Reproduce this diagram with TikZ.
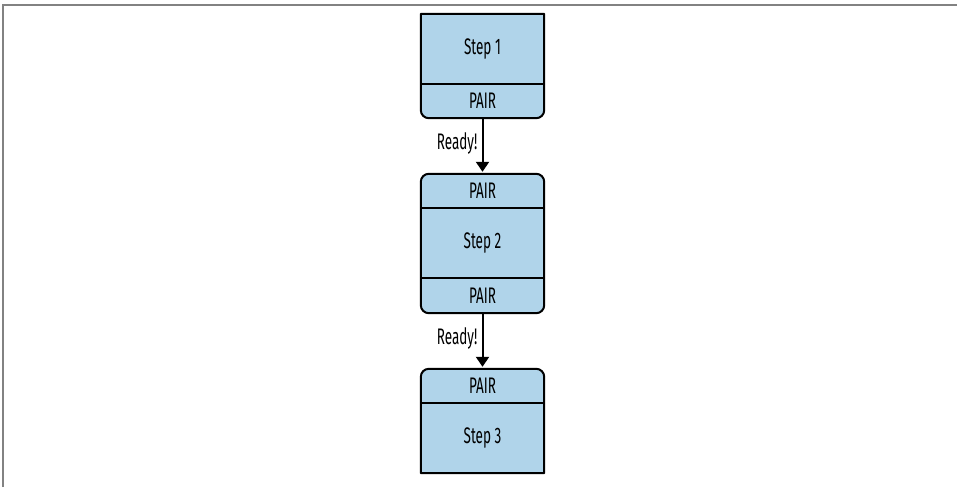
\documentclass[tikz,border=0pt]{standalone}
\usepackage{fontspec}
\setmainfont[FakeStretch=0.6]{Fira Sans}
\usetikzlibrary{arrows.meta,backgrounds}
\definecolor{boxblue}{RGB}{176,212,234}
\definecolor{framegray}{RGB}{130,130,130}
\begin{document}
\begin{tikzpicture}[x=1pt,y=1pt,
  sect/.style={rectangle, minimum width=123pt, inner sep=0pt, font=\fontsize{22.5}{24}\selectfont},
  outline/.style={draw=black, line width=2pt, fill=boxblue, line join=round},
  divider/.style={draw=black, line width=2pt},
  flow/.style={draw=black, line width=2pt, -{Triangle[length=10pt,width=13pt]}, shorten >=2pt},
  lbl/.style={font=\fontsize{22.5}{24}\selectfont, inner sep=4pt}]
\useasboundingbox (0,0) rectangle (957,-487);
\draw[framegray, line width=2.2pt] (3,-487) -- (3,-5) -- (957,-5);
% Box 1
\node[sect, minimum height=70pt] (s1) at (482.5,-49) {Step 1};
\node[sect, minimum height=34pt] (p1) at (482.5,-101) {PAIR};
% Box 2
\node[sect, minimum height=34pt] (q2) at (482.5,-191) {PAIR};
\node[sect, minimum height=70pt] (s2) at (482.5,-243) {Step 2};
\node[sect, minimum height=35pt] (p2) at (482.5,-295.5) {PAIR};
% Box 3
\node[sect, minimum height=34pt] (q3) at (482.5,-386) {PAIR};
\node[sect, minimum height=70pt] (s3) at (482.5,-438) {Step 3};
\begin{scope}[on background layer]
  \path[outline] (s1.north west) -- (s1.north east) -- ([yshift=8pt]p1.south east)
    arc[start angle=0, end angle=-90, radius=8pt] -- ([xshift=8pt]p1.south west)
    arc[start angle=270, end angle=180, radius=8pt] -- cycle;
  \path[outline] ([yshift=-8pt]q2.north west) arc[start angle=180, end angle=90, radius=8pt]
    -- ([xshift=-8pt]q2.north east) arc[start angle=90, end angle=0, radius=8pt]
    -- ([yshift=8pt]p2.south east) arc[start angle=0, end angle=-90, radius=8pt]
    -- ([xshift=8pt]p2.south west) arc[start angle=270, end angle=180, radius=8pt] -- cycle;
  \path[outline] ([yshift=-8pt]q3.north west) arc[start angle=180, end angle=90, radius=8pt]
    -- ([xshift=-8pt]q3.north east) arc[start angle=90, end angle=0, radius=8pt]
    -- (s3.south east) -- (s3.south west) -- cycle;
\end{scope}
\draw[divider] (s1.south west) -- (s1.south east);
\draw[divider] (q2.south west) -- (q2.south east);
\draw[divider] (s2.south west) -- (s2.south east);
\draw[divider] (q3.south west) -- (q3.south east);
\draw[flow] (p1.south) -- node[lbl, left, pos=0.45] (r1) {Ready!} (q2.north);
\draw[flow] (p2.south) -- node[lbl, left, pos=0.45] (r2) {Ready!} (q3.north);
\end{tikzpicture}
\end{document}
